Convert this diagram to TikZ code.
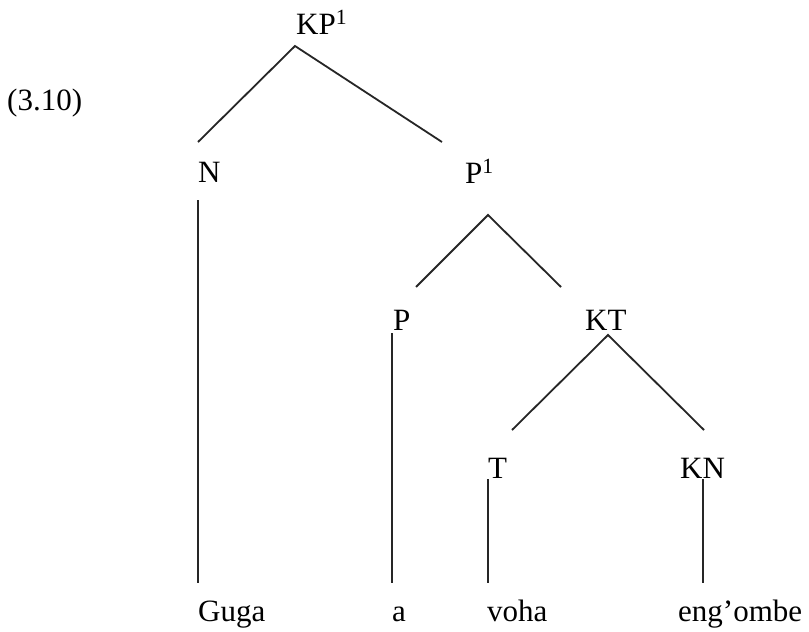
\documentclass[tikz,border=0pt]{standalone}
\usepackage{fontspec}
\setmainfont{Liberation Serif}
\begin{document}
\begin{tikzpicture}[x=1pt,y=-1pt,
  lbl/.style={inner sep=0pt,anchor=base west,font=\fontsize{31}{36}\selectfont},
  edge/.style={line width=1.8pt,black!85}]
\useasboundingbox[fill=white] (0,0) rectangle (809,632);
% labels
\node[lbl] (ex) at (7,110) {(3.10)};
\node[lbl] (kp1) at (296,34) {KP\textsuperscript{1}};
\node[lbl] (n) at (198,182) {N};
\node[lbl] (p1) at (465,183) {P\textsuperscript{1}};
\node[lbl] (p) at (393,330) {P};
\node[lbl] (kt) at (585,330) {KT};
\node[lbl] (t) at (488,478) {T};
\node[lbl] (kn) at (680,478) {KN};
\node[lbl] (guga) at (198,621) {Guga};
\node[lbl] (a) at (392,621) {a};
\node[lbl] (voha) at (487,621) {voha};
\node[lbl] (engombe) at (678,621) {eng’ombe};
% connector end points
\coordinate (kp1-b) at (295,46);
\coordinate (n-t) at (198,142);
\coordinate (p1-t) at (442,142);
\coordinate (n-b) at (198,200);
\coordinate (guga-t) at (198,583);
\coordinate (p1-b) at (488,215);
\coordinate (p-t) at (416,287);
\coordinate (kt-t) at (561,287);
\coordinate (p-b) at (392,333);
\coordinate (a-t) at (392,583);
\coordinate (kt-b) at (608,335);
\coordinate (t-t) at (512,430);
\coordinate (kn-t) at (704,430);
\coordinate (t-b) at (488,479);
\coordinate (voha-t) at (488,583);
\coordinate (kn-b) at (703,479);
\coordinate (engombe-t) at (703,583);
% connectors
\draw[edge] (n-t) -- (kp1-b) -- (p1-t);
\draw[edge] (n-b) -- (guga-t);
\draw[edge] (p-t) -- (p1-b) -- (kt-t);
\draw[edge] (p-b) -- (a-t);
\draw[edge] (t-t) -- (kt-b) -- (kn-t);
\draw[edge] (t-b) -- (voha-t);
\draw[edge] (kn-b) -- (engombe-t);
\end{tikzpicture}
\end{document}
